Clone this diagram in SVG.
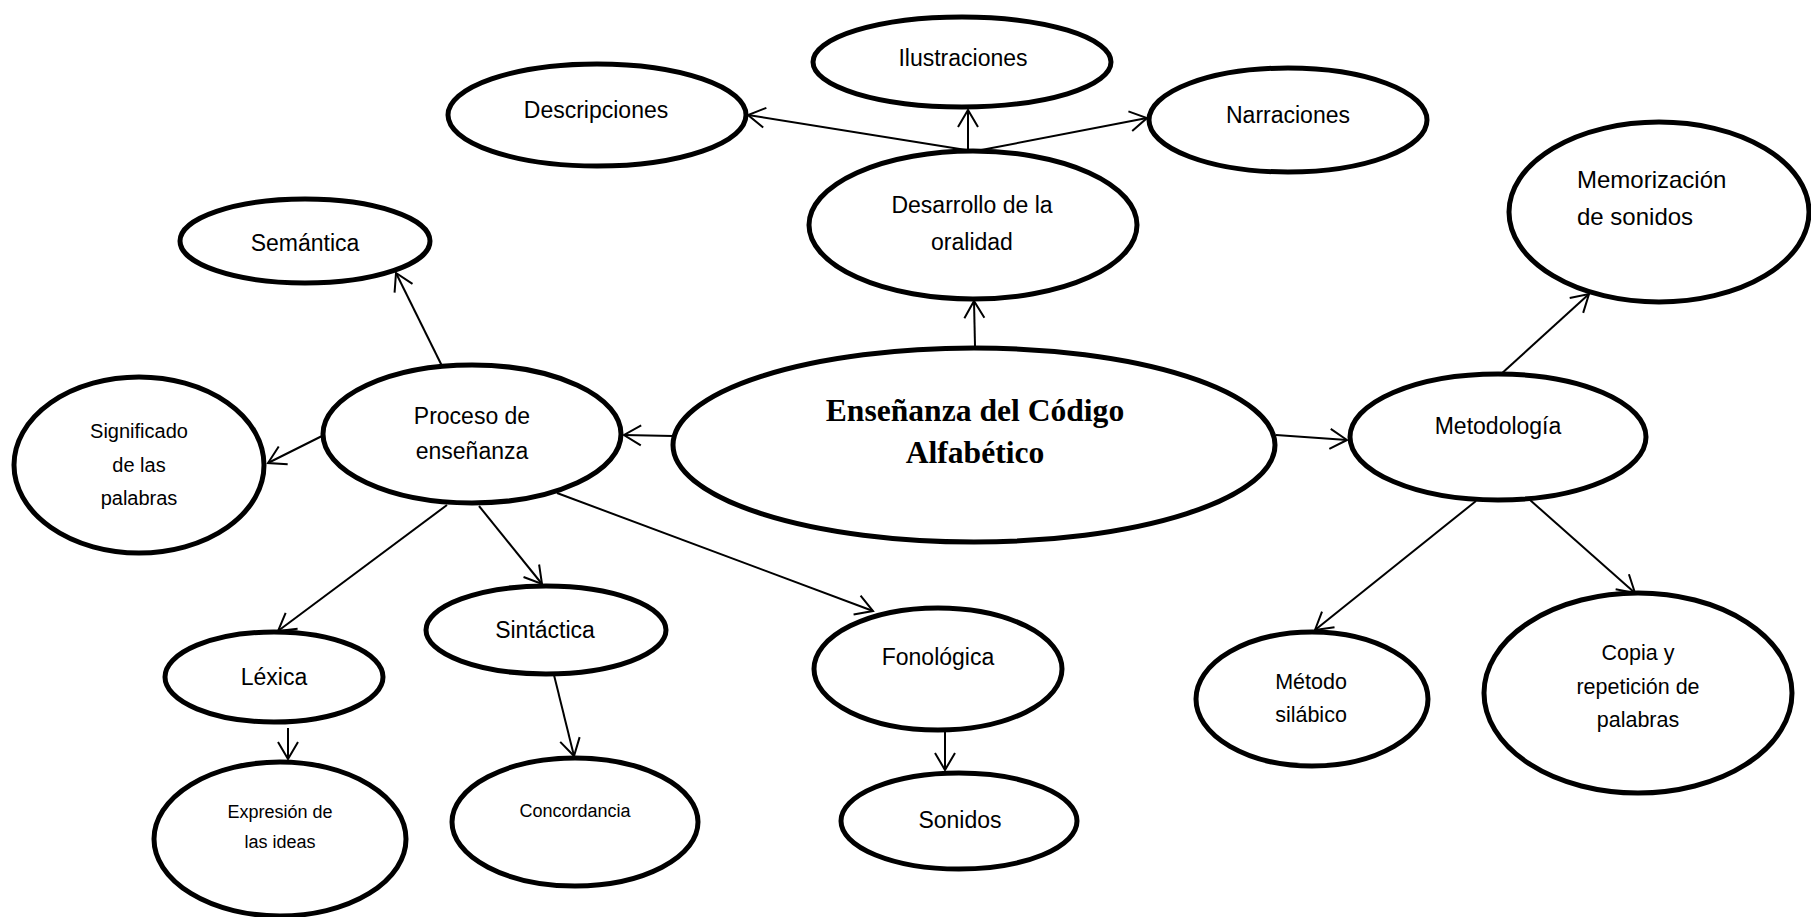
<svg xmlns="http://www.w3.org/2000/svg" width="1811" height="917" viewBox="0 0 1811 917">
<style>
.n{fill:#fff;stroke:#000;stroke-width:5}
.t{font-family:"Liberation Sans",Arial,sans-serif;font-size:23px;fill:#000;text-anchor:middle}
.s{font-size:20px}
.xs{font-size:18px}
.m{font-size:21.5px}
.c{font-family:"Liberation Serif","Times New Roman",serif;font-weight:bold;font-size:31.6px;fill:#000;text-anchor:middle}
.e{fill:none;stroke:#000;stroke-width:2;marker-end:url(#a)}
</style>
<defs>
<marker id="a" markerUnits="userSpaceOnUse" markerWidth="20" markerHeight="22" refX="17" refY="10" orient="auto" overflow="visible">
<path d="M0,0 L17,10 L0,20" fill="none" stroke="#000" stroke-width="2"/>
</marker>
</defs>
<rect width="1811" height="917" fill="#fff"/>
<g id="connectors">
<path class="e" d="M975,346 L974,301"/>
<path class="e" d="M968,150 L968,110"/>
<path class="e" d="M966,150 L748,115"/>
<path class="e" d="M976,151 L1147,118"/>
<path class="e" d="M673,436 L624,435"/>
<path class="e" d="M442,366 L396,273"/>
<path class="e" d="M322,436 L268,463"/>
<path class="e" d="M447,505 L278,631"/>
<path class="e" d="M479,506 L542,584"/>
<path class="e" d="M557,493 L873,611"/>
<path class="e" d="M288,728 L288,759"/>
<path class="e" d="M554,675 L574,756"/>
<path class="e" d="M945,732 L945,770"/>
<path class="e" d="M1276,435 L1347,440"/>
<path class="e" d="M1500,375 L1589,294"/>
<path class="e" d="M1476,501 L1315,630"/>
<path class="e" d="M1530,500 L1635,593"/>
</g>
<g id="central"><ellipse class="n" cx="974" cy="445" rx="301" ry="97"/><text class="c" x="975" y="421">Enseñanza del Código</text><text class="c" x="975" y="463">Alfabético</text></g>
<g id="desarrollo"><ellipse class="n" cx="973" cy="225" rx="164" ry="74"/><text class="t" x="972" y="213">Desarrollo de la</text><text class="t" x="972" y="250">oralidad</text></g>
<g id="ilustraciones"><ellipse class="n" cx="962" cy="62" rx="149" ry="45"/><text class="t" x="963" y="66">Ilustraciones</text></g>
<g id="descripciones"><ellipse class="n" cx="597" cy="115" rx="149" ry="51"/><text class="t" x="596" y="118">Descripciones</text></g>
<g id="narraciones"><ellipse class="n" cx="1288" cy="120" rx="139" ry="52"/><text class="t" x="1288" y="123">Narraciones</text></g>
<g id="memorizacion"><ellipse class="n" cx="1659" cy="212" rx="150" ry="90"/><text class="t" x="1577" y="188" style="text-anchor:start;font-size:24px">Memorización</text><text class="t" x="1577" y="225" style="text-anchor:start;font-size:24px">de sonidos</text></g>
<g id="proceso"><ellipse class="n" cx="472" cy="434" rx="149" ry="69"/><text class="t" x="472" y="424">Proceso de</text><text class="t" x="472" y="459">enseñanza</text></g>
<g id="semantica"><ellipse class="n" cx="305" cy="241" rx="125" ry="42"/><text class="t" x="305" y="251">Semántica</text></g>
<g id="significado"><ellipse class="n" cx="139" cy="465" rx="125" ry="88"/><text class="t s" x="139" y="438">Significado</text><text class="t s" x="139" y="472">de las</text><text class="t s" x="139" y="505">palabras</text></g>
<g id="lexica"><ellipse class="n" cx="274" cy="677" rx="109" ry="45"/><text class="t" x="274" y="685">Léxica</text></g>
<g id="sintactica"><ellipse class="n" cx="546" cy="630" rx="120" ry="44"/><text class="t" x="545" y="638">Sintáctica</text></g>
<g id="fonologica"><ellipse class="n" cx="938" cy="669" rx="124" ry="61"/><text class="t" x="938" y="665">Fonológica</text></g>
<g id="expresion"><ellipse class="n" cx="280" cy="839" rx="126" ry="77"/><text class="t xs" x="280" y="818">Expresión de</text><text class="t xs" x="280" y="848">las ideas</text></g>
<g id="concordancia"><ellipse class="n" cx="575" cy="822" rx="123" ry="64"/><text class="t xs" x="575" y="817">Concordancia</text></g>
<g id="sonidos"><ellipse class="n" cx="959" cy="821" rx="118" ry="48"/><text class="t" x="960" y="828">Sonidos</text></g>
<g id="metodologia"><ellipse class="n" cx="1498" cy="437" rx="148" ry="63"/><text class="t" x="1498" y="434">Metodología</text></g>
<g id="metodo"><ellipse class="n" cx="1312" cy="699" rx="116" ry="67"/><text class="t m" x="1311" y="689">Método</text><text class="t m" x="1311" y="722">silábico</text></g>
<g id="copia"><ellipse class="n" cx="1638" cy="693" rx="154" ry="100"/><text class="t m" x="1638" y="660">Copia y</text><text class="t m" x="1638" y="694">repetición de</text><text class="t m" x="1638" y="727">palabras</text></g>
</svg>
